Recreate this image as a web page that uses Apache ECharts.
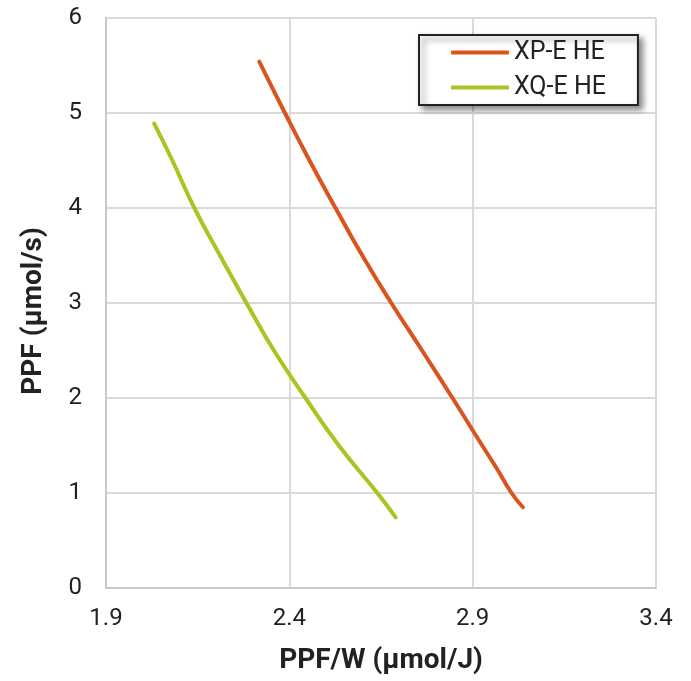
<!DOCTYPE html>
<html>
<head>
<meta charset="utf-8">
<style>html,body{margin:0;padding:0;background:#fff;}#chart{width:691px;height:681px;}</style>
<script src="https://cdn.jsdelivr.net/npm/echarts@6/dist/echarts.min.js"></script>
</head>
<body>
<div id="chart"></div>
<script>
const seriesNames = ['XP-E HE', 'XQ-E HE'];
const xpX = [2.318, 2.388, 2.455, 2.526, 2.599, 2.678, 2.762, 2.845, 2.926, 2.967, 3.006, 3.037];
const xpY = [5.54, 5.00, 4.50, 4.00, 3.50, 3.00, 2.50, 2.00, 1.50, 1.25, 1.00, 0.85];
const xqX = [2.031, 2.081, 2.141, 2.211, 2.283, 2.358, 2.444, 2.535, 2.640, 2.690];
const xqY = [4.89, 4.50, 4.00, 3.50, 3.00, 2.50, 2.00, 1.50, 1.00, 0.744];
const xTicks = [1.9, 2.4, 2.9, 3.4];
const yTicks = [0, 1, 2, 3, 4, 5, 6];

const pair = (xs, ys) => xs.map((x, i) => [x, ys[i]]);
const chart = echarts.init(document.getElementById('chart'));
chart.setOption({
  animation: false,
  backgroundColor: '#fff',
  grid: { left: 106, right: 35, top: 18, bottom: 93 },
  legend: {
    left: 419, top: 35, orient: 'vertical',
    data: seriesNames,
    icon: 'roundRect',
    itemWidth: 58, itemHeight: 4, itemGap: 10,
    padding: [5, 32, 5, 32],
    backgroundColor: '#fff',
    borderColor: '#222', borderWidth: 2,
    shadowColor: 'rgba(0,0,0,0.45)', shadowBlur: 6, shadowOffsetX: 4, shadowOffsetY: 4,
    textStyle: { fontFamily: 'Roboto', fontSize: 25, color: '#222', lineHeight: 24 }
  },
  xAxis: {
    type: 'value', min: xTicks[0], max: xTicks[xTicks.length - 1], interval: 0.5,
    name: 'PPF/W (µmol/J)', nameLocation: 'middle', nameGap: 59,
    nameTextStyle: { fontFamily: 'Roboto', fontWeight: 'bold', fontSize: 28, color: '#222' },
    axisLine: { show: true, lineStyle: { color: '#c8c8c8', width: 2 } },
    axisTick: { show: false },
    axisLabel: { fontFamily: 'Roboto', fontSize: 24, color: '#222', margin: 19,
      formatter: v => v.toFixed(1) },
    splitLine: { show: true, lineStyle: { color: '#dadada', width: 2 } }
  },
  yAxis: {
    type: 'value', min: yTicks[0], max: yTicks[yTicks.length - 1], interval: 1,
    name: 'PPF (µmol/s)', nameLocation: 'middle', nameGap: 58,
    nameTextStyle: { fontFamily: 'Roboto', fontWeight: 'bold', fontSize: 28, color: '#222', padding: [0, 16, 0, 0] },
    axisLine: { show: true, lineStyle: { color: '#c8c8c8', width: 2 } },
    axisTick: { show: false },
    axisLabel: { fontFamily: 'Roboto', fontSize: 24, color: '#222', margin: 24 },
    splitLine: { show: true, lineStyle: { color: '#dadada', width: 2 } }
  },
  series: [
    { name: seriesNames[0], type: 'line', data: pair(xpX, xpY), smooth: 0.5, symbol: 'none',
      lineStyle: { color: '#d9541e', width: 4, cap: 'round' }, itemStyle: { color: '#d9541e' } },
    { name: seriesNames[1], type: 'line', data: pair(xqX, xqY), smooth: 0.5, symbol: 'none',
      lineStyle: { color: '#a8c521', width: 4, cap: 'round' }, itemStyle: { color: '#a8c521' } }
  ]
});
</script>
</body>
</html>
